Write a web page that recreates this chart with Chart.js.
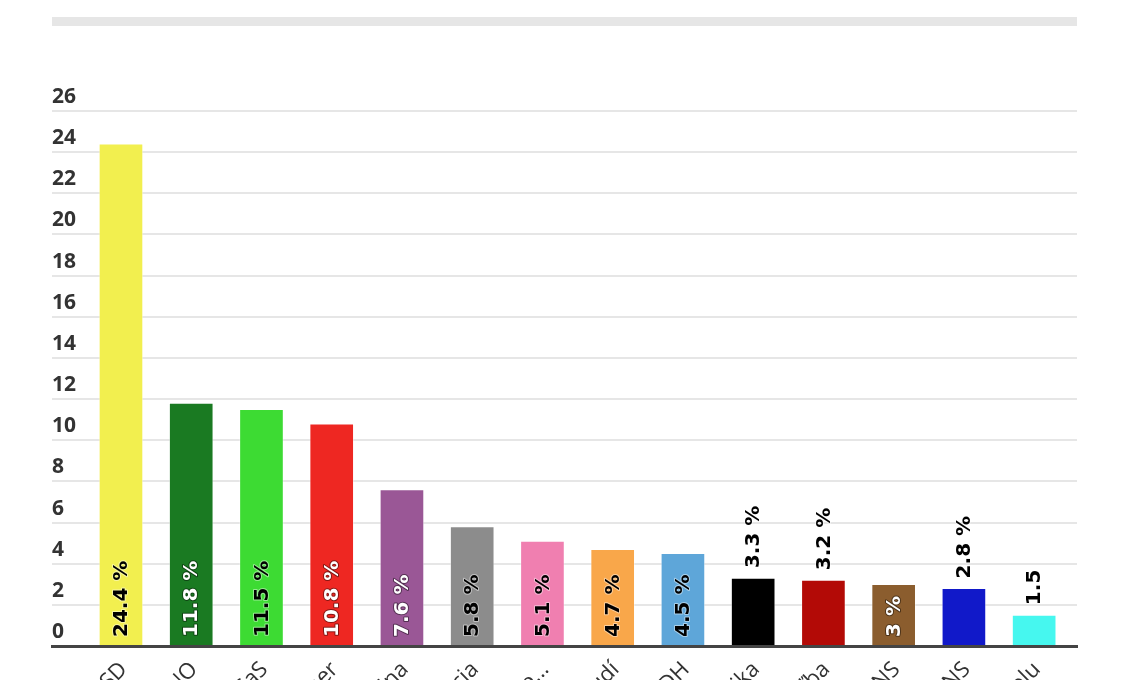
<!DOCTYPE html>
<html>
<head>
<meta charset="utf-8">
<script src="https://cdn.jsdelivr.net/npm/chart.js@4/dist/chart.umd.min.js"></script>
<style>
    html, body { margin: 0; padding: 0; background: #fff; }
    #wrap { width: 1129px; height: 680px; position: relative; overflow: hidden; }
</style>
</head>
<body>
<div id="wrap"><canvas id="pollChart" width="1129" height="680"></canvas></div>
<script>
// poll results, in percent
const parties = ['Hlas-SD', 'OĽaNO', 'SaS', 'Smer', 'Sme rodina', 'Aliancia', 'Progresívne Slove...',
    'Za ľudí', 'KDH', 'Republika', 'Dobrá voľba', 'SNS', 'ĽSNS', 'Spolu'];
const shares = [24.4, 11.8, 11.5, 10.8, 7.6, 5.8, 5.1, 4.7, 4.5, 3.3, 3.2, 3.0, 2.8, 1.5];
const shareLabels = ['24.4 %', '11.8 %', '11.5 %', '10.8 %', '7.6 %', '5.8 %', '5.1 %',
    '4.7 %', '4.5 %', '3.3 %', '3.2 %', '3 %', '2.8 %', '1.5'];
const barColors = ['#f2ef4f', '#1a7a22', '#3ddb33', '#ee2722', '#9a5796', '#8c8c8c', '#f07fb0',
    '#f9a74a', '#5ea6d9', '#000000', '#b30a06', '#8b5d2e', '#1119c9', '#46f7ef'];
const yMax = 26;
const yStep = 2;

const FONT = '"Open Sans", "DejaVu Sans", sans-serif';

function luminance(hex) {
    const c = [1, 3, 5].map(i => parseInt(hex.substr(i, 2), 16) / 255)
        .map(v => v <= 0.03928 ? v / 12.92 : Math.pow((v + 0.055) / 1.055, 2.4));
    return 0.2126 * c[0] + 0.7152 * c[1] + 0.0722 * c[2];
}

// grey strip, y tick labels above grid lines, rotated category labels, value labels
const decorPlugin = {
    id: 'decor',
    beforeDraw(chart) {
        const ctx = chart.ctx;
        const area = chart.chartArea;
        ctx.save();
        ctx.fillStyle = '#e6e6e6';
        ctx.fillRect(area.left, 17, area.right - area.left, 9);
        ctx.restore();
    },
    afterDraw(chart) {
        const ctx = chart.ctx;
        const area = chart.chartArea;
        const yScale = chart.scales.y;
        const xScale = chart.scales.x;

        ctx.save();
        ctx.fillStyle = '#333333';
        ctx.font = 'bold 21px ' + FONT;
        ctx.textAlign = 'left';
        ctx.textBaseline = 'alphabetic';
        yScale.ticks.forEach(t => {
            ctx.fillText(String(t.value), area.left, yScale.getPixelForValue(t.value) - 8);
        });

        ctx.font = '22px ' + FONT;
        ctx.textAlign = 'right';
        ctx.textBaseline = 'middle';
        parties.forEach((name, i) => {
            const x = xScale.getPixelForValue(i);
            ctx.save();
            ctx.translate(x + 3, area.bottom + 20);
            ctx.rotate(-Math.PI / 4);
            ctx.fillText(name, 0, 0);
            ctx.restore();
        });

        ctx.font = 'bold 20px "DejaVu Sans", sans-serif';
        ctx.textBaseline = 'middle';
        ctx.lineJoin = 'round';
        const meta = chart.getDatasetMeta(0);
        meta.data.forEach((bar, i) => {
            const text = shareLabels[i];
            const w = ctx.measureText(text).width;
            const h = bar.base - bar.y;
            const inside = w + 16 <= h;
            let fill = '#000000', outline = '#ffffff';
            if (inside && luminance(barColors[i]) < 0.22) {
                fill = '#ffffff';
                outline = '#000000';
            }
            ctx.save();
            ctx.translate(bar.x + 1, inside ? bar.base - 8 : bar.y - 10);
            ctx.rotate(-Math.PI / 2);
            ctx.textAlign = 'left';
            ctx.lineWidth = 2;
            ctx.strokeStyle = outline;
            ctx.globalAlpha = 0.45;
            ctx.strokeText(text, 0, 0);
            ctx.globalAlpha = 1;
            ctx.fillStyle = fill;
            ctx.fillText(text, 0, 0);
            ctx.restore();
        });
        ctx.restore();
    }
};

const ctx = document.getElementById('pollChart');

new Chart(ctx, {
    type: 'bar',
    data: {
        datasets: [{
            data: shares.map((v, i) => ({ x: i, y: v })),
            backgroundColor: barColors,
            borderColor: 'rgba(255,255,255,0.35)',
            borderWidth: 1,
            barThickness: 44
        }]
    },
    options: {
        responsive: false,
        devicePixelRatio: 1,
        animation: false,
        layout: { padding: { left: 52, right: 52, top: 111, bottom: 34 } },
        plugins: {
            legend: { display: false },
            tooltip: { enabled: false }
        },
        scales: {
            x: {
                type: 'linear',
                offset: false,
                min: -0.982,
                max: 13.61,
                ticks: { display: false },
                grid: { display: false },
                border: { display: true, color: '#444444', width: 3 },
                afterFit(scale) { scale.height = 0; }
            },
            y: {
                min: 0,
                max: yMax,
                ticks: { display: false, stepSize: yStep },
                grid: { color: '#e6e6e6', lineWidth: 2, drawTicks: false },
                border: { display: false },
                afterFit(scale) { scale.width = 0; }
            }
        }
    },
    plugins: [decorPlugin]
});
</script>
</body>
</html>
